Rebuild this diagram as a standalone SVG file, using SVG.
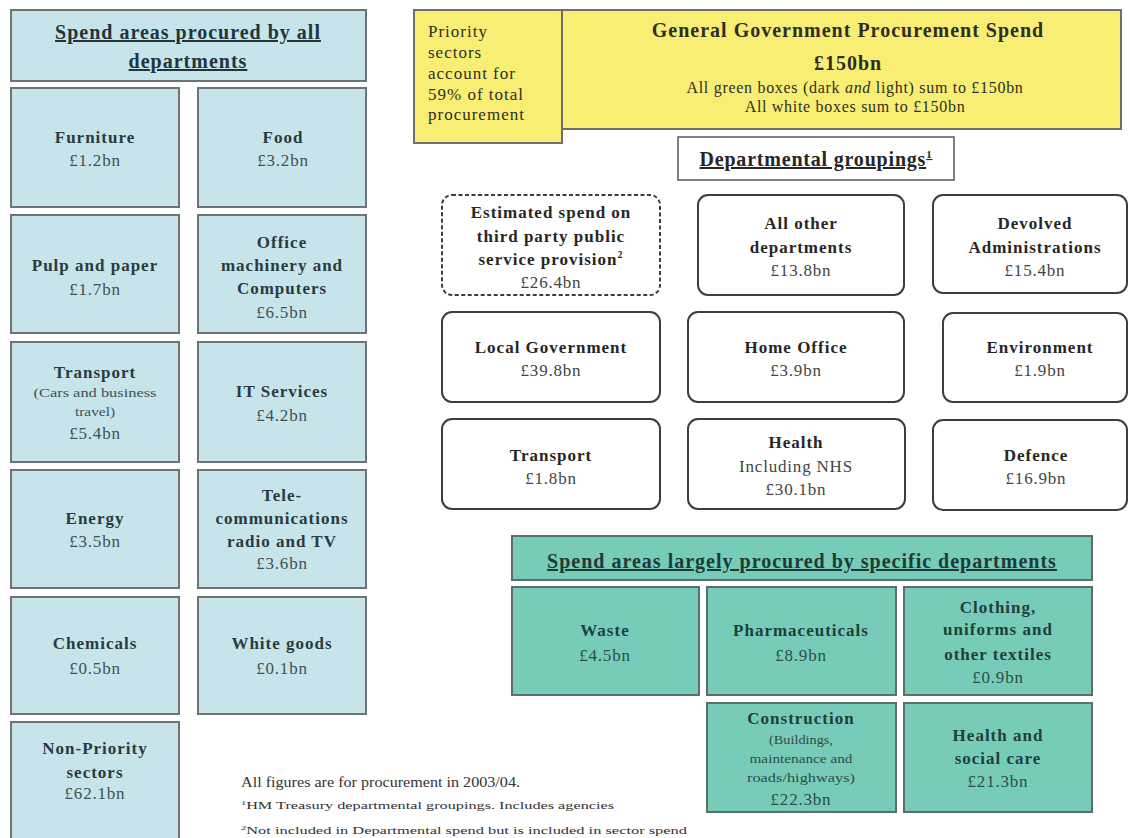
<svg xmlns="http://www.w3.org/2000/svg" width="1130" height="838" viewBox="0 0 1130 838">
<style>
text{font-family:"Liberation Serif","Times New Roman",serif;text-anchor:middle}
.lb{fill:#c6e4ea;stroke:#6f7375;stroke-width:2}
.yb{fill:#f8ee74;stroke:#6f6f6a;stroke-width:2}
.tb{fill:#76ccb9;stroke:#5d6d6a;stroke-width:2}
.db{fill:#fff;stroke:#3d3d3d;stroke-width:2}
.b{font-weight:bold;font-size:17px;letter-spacing:1px}
.r{font-size:17px;letter-spacing:0.8px}
.s{font-size:12px}
.p{font-size:17px;letter-spacing:1px;text-anchor:start}
.lc .b{fill:#2b3a40}.lc .r{fill:#3e5157}.lc .s{fill:#3e5157}
.dc .b{fill:#262626}.dc .r{fill:#444}
.tc .b{fill:#21403a}.tc .r,.tc .s{fill:#2f4c46}
.yc text{fill:#2e2e22}
.hd{font-weight:bold;font-size:20px;letter-spacing:1px;text-decoration:underline}
.fn{fill:#333;text-anchor:start}
</style>

<!-- Left column: spend areas procured by all departments -->
<g class="lc">
<g id="hdr-all"><rect class="lb" x="11" y="10" width="355" height="71"/>
<text class="hd" x="188" y="39" fill="#23343a">Spend areas procured by all</text>
<text class="hd" x="188" y="68" fill="#23343a">departments</text></g>

<g id="furniture"><rect class="lb" x="11" y="88" width="168" height="119"/>
<text class="b" x="95" y="143">Furniture</text><text class="r" x="95" y="166">£1.2bn</text></g>
<g id="food"><rect class="lb" x="198" y="88" width="168" height="119"/>
<text class="b" x="283" y="143">Food</text><text class="r" x="283" y="166">£3.2bn</text></g>

<g id="pulp"><rect class="lb" x="11" y="215" width="168" height="118"/>
<text class="b" x="95" y="271">Pulp and paper</text><text class="r" x="95" y="295">£1.7bn</text></g>
<g id="office"><rect class="lb" x="198" y="215" width="168" height="118"/>
<text class="b" x="282" y="248">Office</text><text class="b" x="282" y="271">machinery and</text><text class="b" x="282" y="294">Computers</text><text class="r" x="282" y="318">£6.5bn</text></g>

<g id="transport-all"><rect class="lb" x="11" y="342" width="168" height="120"/>
<text class="b" x="95" y="378">Transport</text>
<text class="s" x="95" y="397" textLength="123" lengthAdjust="spacingAndGlyphs">(Cars and business</text>
<text class="s" x="95" y="416" textLength="40" lengthAdjust="spacingAndGlyphs">travel)</text>
<text class="r" x="95" y="439">£5.4bn</text></g>
<g id="it"><rect class="lb" x="198" y="342" width="168" height="120"/>
<text class="b" x="282" y="397">IT Services</text><text class="r" x="282" y="421">£4.2bn</text></g>

<g id="energy"><rect class="lb" x="11" y="470" width="168" height="118"/>
<text class="b" x="95" y="524">Energy</text><text class="r" x="95" y="547">£3.5bn</text></g>
<g id="telecom"><rect class="lb" x="198" y="470" width="168" height="118"/>
<text class="b" x="282" y="501">Tele-</text><text class="b" x="282" y="524">communications</text><text class="b" x="282" y="547">radio and TV</text><text class="r" x="282" y="569">£3.6bn</text></g>

<g id="chemicals"><rect class="lb" x="11" y="597" width="168" height="117"/>
<text class="b" x="95" y="649">Chemicals</text><text class="r" x="95" y="674">£0.5bn</text></g>
<g id="whitegoods"><rect class="lb" x="198" y="597" width="168" height="117"/>
<text class="b" x="282" y="649">White goods</text><text class="r" x="282" y="674">£0.1bn</text></g>

<g id="nonpriority"><rect class="lb" x="11" y="722" width="168" height="122"/>
<text class="b" x="95" y="754">Non-Priority</text><text class="b" x="95" y="778">sectors</text><text class="r" x="95" y="799">£62.1bn</text></g>
</g>

<!-- Yellow header boxes -->
<g class="yc">
<g id="priority"><rect class="yb" x="414" y="10" width="148" height="133"/>
<text class="p" x="428" y="37">Priority</text>
<text class="p" x="428" y="58">sectors</text>
<text class="p" x="428" y="79">account for</text>
<text class="p" x="428" y="100">59% of total</text>
<text class="p" x="428" y="120">procurement</text></g>
<g id="total"><rect class="yb" x="562" y="10" width="559" height="119"/>
<text x="848" y="37" style="font-weight:bold;font-size:20px;letter-spacing:1px">General Government  Procurement Spend</text>
<text x="848" y="70" style="font-weight:bold;font-size:20px;letter-spacing:1px">£150bn</text>
<text x="855" y="93" style="font-size:16px;letter-spacing:0.7px">All green boxes (dark <tspan font-style="italic">and</tspan> light) sum to £150bn</text>
<text x="855" y="112" style="font-size:16px;letter-spacing:0.7px">All white boxes sum to £150bn</text></g>
</g>

<!-- Departmental groupings -->
<g class="dc">
<g id="dept-hdr"><rect x="678" y="137" width="276" height="43" fill="#fff" stroke="#555" stroke-width="1.5"/>
<text class="hd" x="816" y="166" fill="#262626" style="letter-spacing:0.8px">Departmental groupings<tspan font-size="11" dy="-8">1</tspan></text></g>

<g id="third-party"><rect class="db" x="442" y="195" width="218" height="100" rx="10" stroke-dasharray="4 2.5"/>
<text class="b" x="551" y="218">Estimated spend on</text><text class="b" x="551" y="242">third party public</text>
<text class="b" x="551" y="265">service provision<tspan font-size="10" dy="-7">2</tspan></text><text class="r" x="551" y="288">£26.4bn</text></g>
<g id="other"><rect class="db" x="698" y="195" width="206" height="100" rx="10"/>
<text class="b" x="801" y="229">All other</text><text class="b" x="801" y="253">departments</text><text class="r" x="801" y="276">£13.8bn</text></g>
<g id="devolved"><rect class="db" x="933" y="195" width="194" height="98" rx="10"/>
<text class="b" x="1035" y="229">Devolved</text><text class="b" x="1035" y="253">Administrations</text><text class="r" x="1035" y="276">£15.4bn</text></g>

<g id="localgov"><rect class="db" x="442" y="312" width="218" height="90" rx="10"/>
<text class="b" x="551" y="353">Local Government</text><text class="r" x="551" y="376">£39.8bn</text></g>
<g id="homeoffice"><rect class="db" x="688" y="312" width="216" height="90" rx="10"/>
<text class="b" x="796" y="353">Home Office</text><text class="r" x="796" y="376">£3.9bn</text></g>
<g id="environment"><rect class="db" x="943" y="313" width="184" height="89" rx="10"/>
<text class="b" x="1040" y="353">Environment</text><text class="r" x="1040" y="376">£1.9bn</text></g>

<g id="transport-dept"><rect class="db" x="442" y="419" width="218" height="90" rx="10"/>
<text class="b" x="551" y="461">Transport</text><text class="r" x="551" y="484">£1.8bn</text></g>
<g id="health"><rect class="db" x="688" y="419" width="217" height="90" rx="10"/>
<text class="b" x="796" y="448">Health</text><text class="r" x="796" y="472">Including NHS</text><text class="r" x="796" y="495">£30.1bn</text></g>
<g id="defence"><rect class="db" x="933" y="420" width="194" height="90" rx="10"/>
<text class="b" x="1036" y="461">Defence</text><text class="r" x="1036" y="484">£16.9bn</text></g>
</g>

<!-- Teal: spend areas largely procured by specific departments -->
<g class="tc">
<g id="hdr-specific"><rect class="tb" x="512" y="536" width="580" height="44"/>
<text class="hd" x="802" y="568" fill="#1f3a35">Spend areas largely procured by specific departments</text></g>
<g id="waste"><rect class="tb" x="512" y="587" width="187" height="108"/>
<text class="b" x="605" y="636">Waste</text><text class="r" x="605" y="661">£4.5bn</text></g>
<g id="pharma"><rect class="tb" x="707" y="587" width="189" height="108"/>
<text class="b" x="801" y="636">Pharmaceuticals</text><text class="r" x="801" y="661">£8.9bn</text></g>
<g id="clothing"><rect class="tb" x="904" y="587" width="188" height="108"/>
<text class="b" x="998" y="613">Clothing,</text><text class="b" x="998" y="635">uniforms and</text><text class="b" x="998" y="660">other textiles</text><text class="r" x="998" y="683">£0.9bn</text></g>
<g id="construction"><rect class="tb" x="707" y="703" width="189" height="109"/>
<text class="b" x="801" y="724">Construction</text>
<text class="s" x="801" y="744" textLength="64" lengthAdjust="spacingAndGlyphs">(Buildings,</text>
<text class="s" x="801" y="763" textLength="103" lengthAdjust="spacingAndGlyphs">maintenance and</text>
<text class="s" x="801" y="782" textLength="108" lengthAdjust="spacingAndGlyphs">roads/highways)</text>
<text class="r" x="801" y="805">£22.3bn</text></g>
<g id="healthcare"><rect class="tb" x="904" y="703" width="188" height="109"/>
<text class="b" x="998" y="741">Health and</text><text class="b" x="998" y="764">social care</text><text class="r" x="998" y="787">£21.3bn</text></g>
</g>

<!-- Notes -->
<g id="notes">
<text class="fn" x="241" y="787" font-size="15" textLength="279" lengthAdjust="spacingAndGlyphs">All figures are for procurement in 2003/04.</text>
<text class="fn" x="241" y="809" font-size="11" textLength="373" lengthAdjust="spacingAndGlyphs"><tspan font-size="7" dy="-4">1</tspan><tspan dy="4">HM Treasury departmental groupings. Includes agencies</tspan></text>
<text class="fn" x="241" y="834" font-size="11" textLength="446" lengthAdjust="spacingAndGlyphs"><tspan font-size="7" dy="-4">2</tspan><tspan dy="4">Not included in Departmental spend but is included in sector spend</tspan></text>
</g>
</svg>
